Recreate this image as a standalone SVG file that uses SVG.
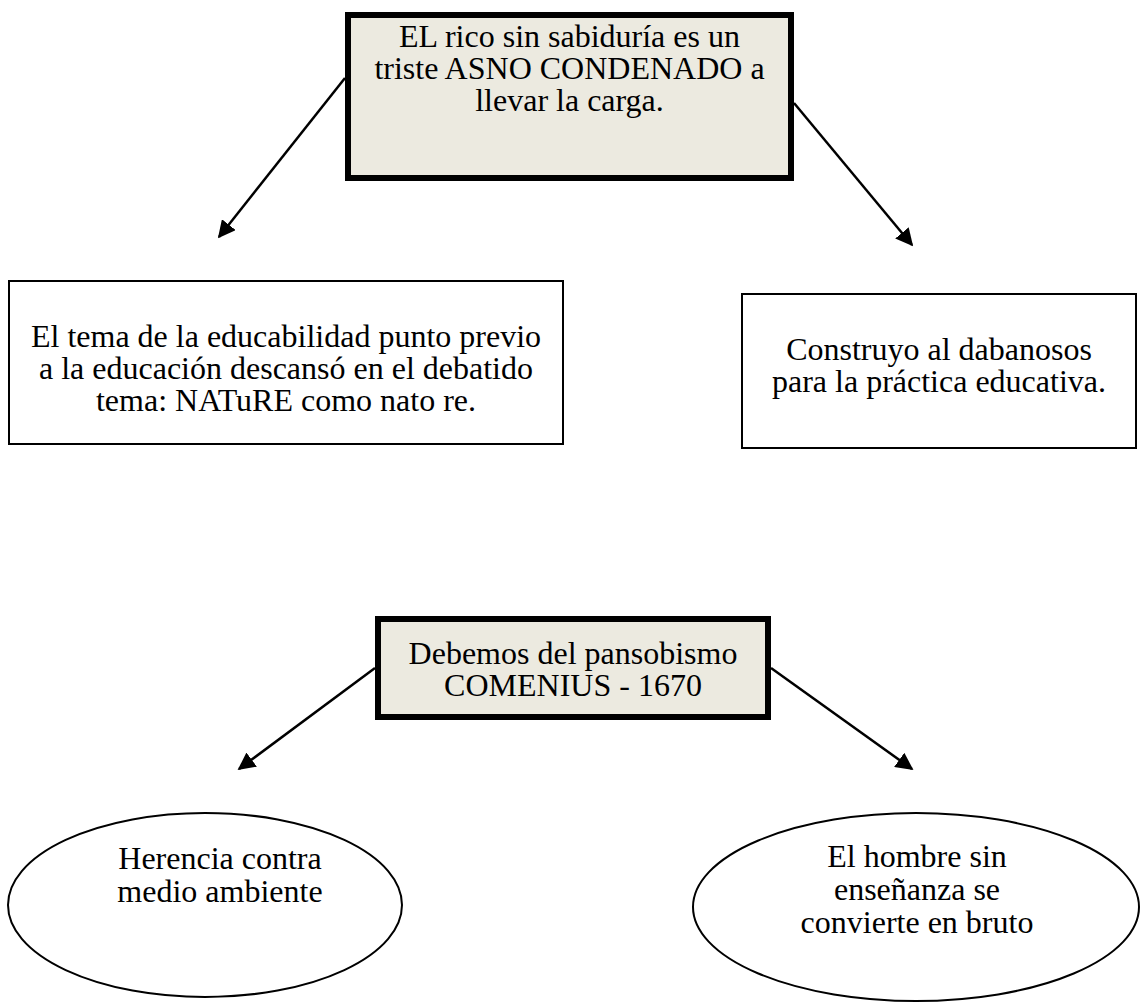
<svg xmlns="http://www.w3.org/2000/svg" width="1141" height="1003" viewBox="0 0 1141 1003">
<style>
text{font-family:"Liberation Serif","Times New Roman",serif;font-size:32px;fill:#000;text-anchor:middle}
.thick{fill:#ECEAE0;stroke:#000;stroke-width:6}
.thin{fill:#fff;stroke:#000;stroke-width:2}
.ell{fill:#fff;stroke:#000;stroke-width:2}
.conn{stroke:#000;stroke-width:2.5;fill:none;marker-end:url(#ah)}
</style>
<defs>
<marker id="ah" viewBox="0 0 10 10" refX="9" refY="5" markerWidth="7" markerHeight="7" markerUnits="strokeWidth" orient="auto">
<path d="M0,0 L10,5 L0,10 z" fill="#000"/>
</marker>
</defs>
<rect width="1141" height="1003" fill="#fff"/>
<g id="connectors">
<line class="conn" x1="345" y1="78" x2="219" y2="237"/>
<line class="conn" x1="794" y1="103" x2="912" y2="245"/>
<line class="conn" x1="375" y1="668" x2="239" y2="769"/>
<line class="conn" x1="771" y1="668" x2="912" y2="769"/>
</g>
<g id="node-top">
<rect class="thick" x="348" y="15" width="443" height="163"/>
<text x="569.5" y="47">EL rico sin sabiduría es un</text>
<text x="569.5" y="79">triste ASNO CONDENADO a</text>
<text x="569.5" y="111">llevar la carga.</text>
</g>
<g id="node-left">
<rect class="thin" x="9" y="281" width="554" height="163"/>
<text x="286" y="347">El tema de la educabilidad punto previo</text>
<text x="286" y="379">a la educación descansó en el debatido</text>
<text x="286" y="411">tema: NATuRE como nato re.</text>
</g>
<g id="node-right">
<rect class="thin" x="742" y="294" width="394" height="154"/>
<text x="939" y="360">Construyo al dabanosos</text>
<text x="939" y="392">para la práctica educativa.</text>
</g>
<g id="node-bottom">
<rect class="thick" x="378" y="619" width="390" height="98"/>
<text x="573" y="664">Debemos del pansobismo</text>
<text x="573" y="696">COMENIUS - 1670</text>
</g>
<g id="node-ellipse-left">
<ellipse class="ell" cx="205" cy="905" rx="197" ry="92"/>
<text x="220" y="869">Herencia contra</text>
<text x="220" y="902">medio ambiente</text>
</g>
<g id="node-ellipse-right">
<ellipse class="ell" cx="916" cy="907" rx="223" ry="94"/>
<text x="917" y="867">El hombre sin</text>
<text x="917" y="900">enseñanza se</text>
<text x="917" y="933">convierte en bruto</text>
</g>
</svg>
